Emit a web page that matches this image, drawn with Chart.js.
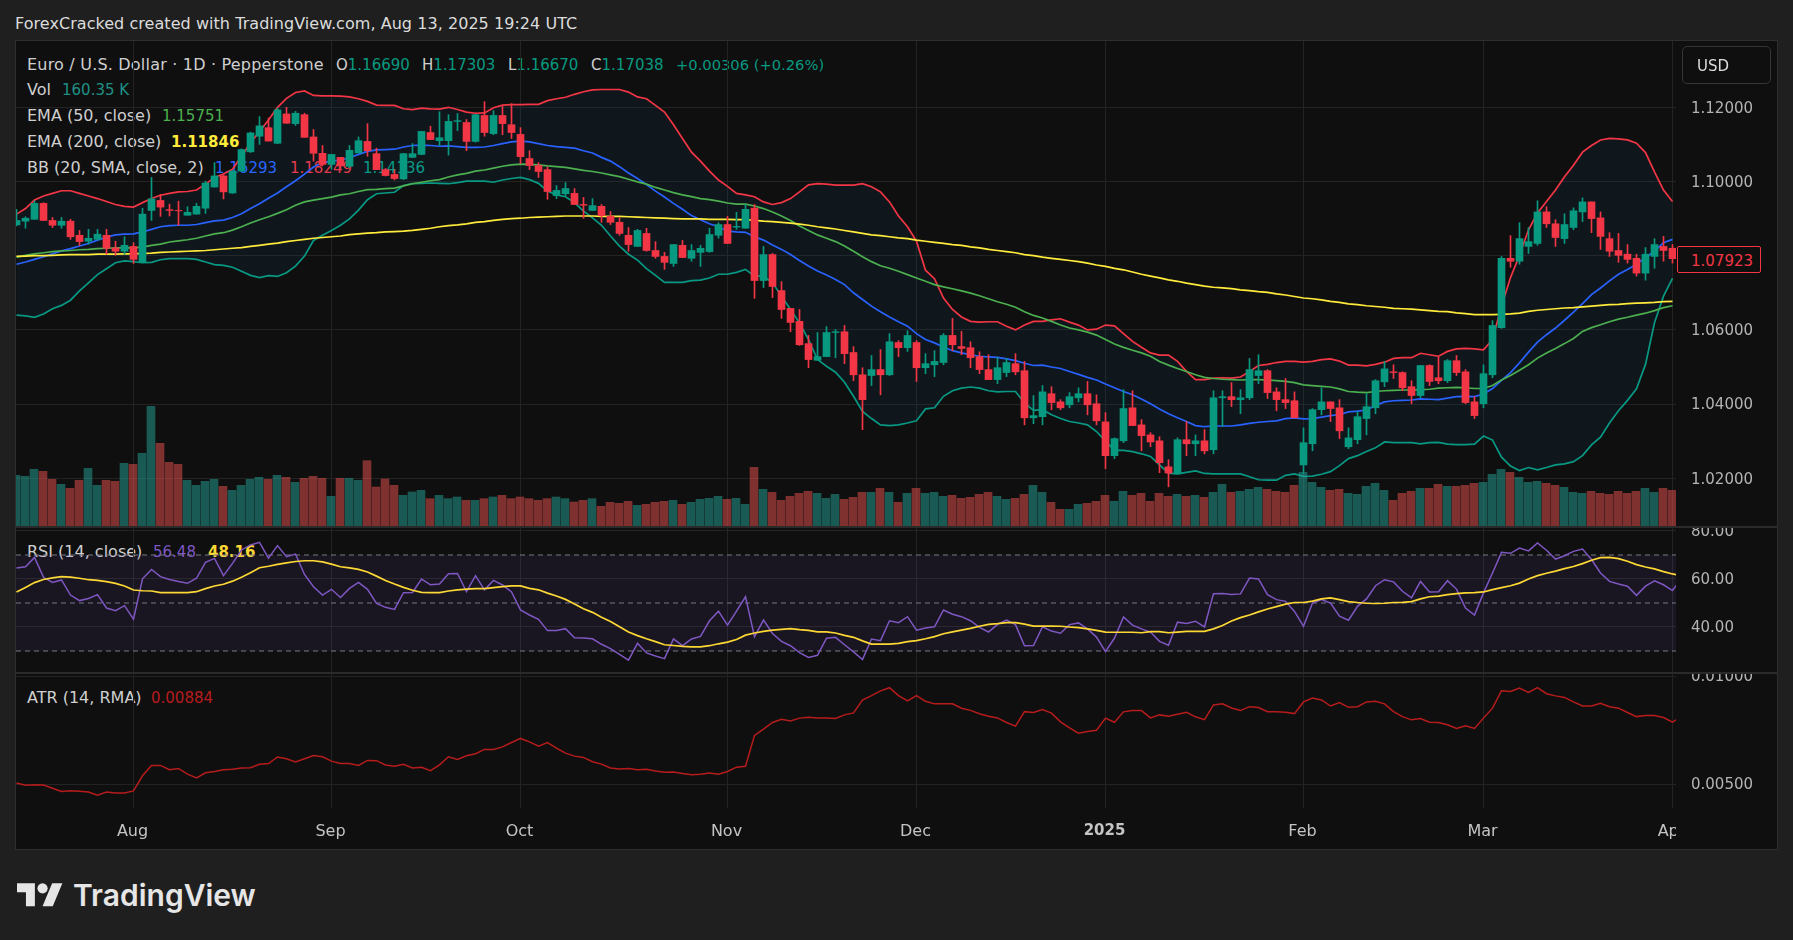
<!DOCTYPE html>
<html><head><meta charset="utf-8"><title>EUR/USD</title>
<script src="https://cdn.jsdelivr.net/npm/chart.js@4/dist/chart.umd.js"></script>
<style>
html,body{margin:0;padding:0;width:1793px;height:940px;background:#1f1f1f;overflow:hidden;font-family:"DejaVu Sans",sans-serif}
#frame{position:absolute;left:15px;top:40px;width:1763px;height:810px;box-sizing:border-box;border:1px solid #2e2e2e;background:#0f0f0f}
canvas{position:absolute;left:16px;z-index:2}
.t{position:absolute;white-space:pre;font-size:15px;line-height:20px;color:#cfcfcf;z-index:1}
.l{font-size:16px}
.top{z-index:3}
.sep{position:absolute;left:16px;width:1762px;height:2px;background:#2a2a2a;z-index:3}
</style></head><body>
<div id="frame"></div>
<div class="t top l" style="left:15px;top:14px;color:#dcdcdc;letter-spacing:0.05px">ForexCracked created with TradingView.com, Aug 13, 2025 19:24 UTC</div>

<div class="t l" style="left:27px;top:55px;letter-spacing:0.2px">Euro / U.S. Dollar · 1D · Pepperstone</div>
<div class="t" style="left:336px;top:55px">O<span style="color:#089981">1.16690</span></div>
<div class="t" style="left:422px;top:55px">H<span style="color:#089981">1.17303</span></div>
<div class="t" style="left:508px;top:55px">L<span style="color:#089981">1.16670</span></div>
<div class="t" style="left:591px;top:55px">C<span style="color:#089981">1.17038</span></div>
<div class="t" style="left:676px;top:55px;color:#089981;font-size:14.7px">+0.00306 (+0.26%)</div>
<div class="t l" style="left:27px;top:80px">Vol</div>
<div class="t" style="left:62px;top:80px;color:#1f8f85">160.35 K</div>
<div class="t l" style="left:27px;top:106px">EMA (50, close)</div>
<div class="t" style="left:162px;top:106px;color:#4caf50">1.15751</div>
<div class="t l" style="left:27px;top:132px">EMA (200, close)</div>
<div class="t" style="left:171px;top:132px;color:#ffeb3b;font-weight:600">1.11846</div>
<div class="t l" style="left:27px;top:158px">BB (20, SMA, close, 2)</div>
<div class="t" style="left:215px;top:158px;color:#2962ff">1.16293</div>
<div class="t" style="left:290px;top:158px;color:#f23645">1.18249</div>
<div class="t" style="left:363px;top:158px;color:#089981">1.14136</div>
<div class="t l" style="left:27px;top:542px">RSI (14, close)</div>
<div class="t" style="left:153px;top:542px;color:#7e57c2">56.48</div>
<div class="t" style="left:208px;top:542px;color:#fdd835;font-weight:600">48.16</div>
<div class="t l" style="left:27px;top:688px">ATR (14, RMA)</div>
<div class="t" style="left:151px;top:688px;color:#b71c1c">0.00884</div>

<canvas id="cMain" width="1762" height="486" style="top:41px;width:1762px;height:486px"></canvas>
<canvas id="cRsi" width="1762" height="145" style="top:528px;width:1762px;height:145px"></canvas>
<canvas id="cAtr" width="1762" height="176" style="top:674px;width:1762px;height:176px"></canvas>

<div class="sep" style="top:526px"></div>
<div class="sep" style="top:672px"></div>
<div style="position:absolute;left:1676px;top:809px;width:101px;height:40px;background:#0f0f0f;z-index:3"></div>
<div class="t top" style="left:1682px;top:46px;width:89px;height:38px;box-sizing:border-box;border:1px solid #363636;border-radius:5px;padding:9px 0 0 14px;color:#dcdcdc">USD</div>
<div class="t top" style="left:1677px;top:246px;width:84px;height:27px;box-sizing:border-box;border:1px solid #f23645;border-radius:2px;padding:4px 0 0 13px;color:#f23645;background:#0f0f0f">1.07923</div>
<svg style="position:absolute;left:17px;top:878px;z-index:3" width="46" height="36" viewBox="0 0 36 28"><path fill="#e6e6e6" d="M14 22H7V11H0V4h14v18zM28 22h-8l7.5-18h8L28 22z"/><circle fill="#e6e6e6" cx="20" cy="8" r="4"/></svg>
<div class="t top" style="left:73px;top:876px;font-family:Inter,sans-serif;font-weight:600;font-size:30px;line-height:38px;letter-spacing:0;color:#e6e6e6">TradingView</div>

<script>
const open=[1.0883,1.0893,1.0898,1.0941,1.0895,1.0882,1.0893,1.0855,1.0839,1.0844,1.0855,1.0821,1.0812,1.0825,1.0783,1.0922,1.0949,1.0924,1.0922,1.0909,1.0912,1.0928,1.0985,1.1015,1.0969,1.1028,1.1080,1.1122,1.1145,1.1103,1.1182,1.1156,1.1180,1.1120,1.1076,1.1046,1.1065,1.1041,1.1077,1.1108,1.1075,1.1032,1.1019,1.1007,1.1065,1.1073,1.1132,1.1110,1.1110,1.1162,1.1159,1.1108,1.1178,1.1129,1.1178,1.1153,1.1127,1.1062,1.1043,1.1032,1.0962,1.0967,1.0968,1.0938,1.0922,1.0933,1.0906,1.0890,1.0855,1.0825,1.0860,1.0814,1.0798,1.0779,1.0828,1.0793,1.0809,1.0811,1.0855,1.0884,1.0877,1.0874,1.0928,1.0733,1.0803,1.0706,1.0658,1.0623,1.0563,1.0518,1.0528,1.0593,1.0595,1.0539,1.0479,1.0477,1.0493,1.0479,1.0566,1.0552,1.0566,1.0498,1.0506,1.0512,1.0585,1.0555,1.0552,1.0528,1.0493,1.0466,1.0485,1.0509,1.0490,1.0363,1.0366,1.0428,1.0406,1.0398,1.0417,1.0428,1.0401,1.0352,1.0261,1.0301,1.0390,1.0344,1.0317,1.0301,1.0231,1.0212,1.0304,1.0293,1.0301,1.0277,1.0417,1.0420,1.0412,1.0417,1.0477,1.0490,1.0433,1.0412,1.0409,1.0236,1.0293,1.0385,1.0406,1.0390,1.0285,1.0304,1.0361,1.0390,1.0460,1.0487,1.0485,1.0447,1.0423,1.0504,1.0471,1.0463,1.0517,1.0487,1.0406,1.0401,1.0479,1.0606,1.0793,1.0785,1.0825,1.0833,1.0918,1.0886,1.0846,1.0876,1.0918,1.0945,1.0902,1.0846,1.0814,1.0804,1.0793,1.0753,1.0798,1.0825,1.0820];
const high=[1.0925,1.0905,1.0948,1.0943,1.0903,1.0903,1.0898,1.0868,1.0871,1.0871,1.0871,1.0839,1.0851,1.0835,1.0928,1.1011,1.0965,1.0939,1.0947,1.0932,1.0941,1.1001,1.1051,1.1018,1.1030,1.1088,1.1133,1.1175,1.1171,1.1198,1.1200,1.1189,1.1184,1.1140,1.1097,1.1073,1.1065,1.1097,1.1120,1.1156,1.1090,1.1035,1.1032,1.1076,1.1102,1.1135,1.1149,1.1188,1.1180,1.1183,1.1167,1.1181,1.1215,1.1191,1.1204,1.1210,1.1145,1.1083,1.1051,1.1039,1.0989,1.0997,1.0981,1.0957,1.0954,1.0938,1.0919,1.0903,1.0876,1.0871,1.0874,1.0838,1.0809,1.0830,1.0841,1.0830,1.0828,1.0874,1.0889,1.0906,1.0917,1.0938,1.0938,1.0825,1.0806,1.0730,1.0658,1.0655,1.0585,1.0593,1.0609,1.0601,1.0612,1.0555,1.0498,1.0531,1.0547,1.0590,1.0571,1.0598,1.0571,1.0536,1.0544,1.0590,1.0631,1.0596,1.0568,1.0541,1.0533,1.0525,1.0523,1.0536,1.0515,1.0423,1.0450,1.0447,1.0412,1.0431,1.0444,1.0461,1.0425,1.0377,1.0309,1.0439,1.0436,1.0358,1.0323,1.0312,1.0250,1.0309,1.0353,1.0317,1.0331,1.0436,1.0436,1.0458,1.0439,1.0523,1.0533,1.0493,1.0444,1.0469,1.0433,1.0336,1.0388,1.0444,1.0406,1.0412,1.0336,1.0380,1.0428,1.0466,1.0515,1.0506,1.0487,1.0463,1.0504,1.0506,1.0528,1.0520,1.0531,1.0493,1.0420,1.0506,1.0625,1.0798,1.0854,1.0889,1.0876,1.0948,1.0932,1.0897,1.0913,1.0929,1.0956,1.0945,1.0918,1.0862,1.0860,1.0830,1.0804,1.0822,1.0846,1.0852,1.0830];
const low=[1.0880,1.0874,1.0898,1.0895,1.0876,1.0874,1.0844,1.0828,1.0831,1.0842,1.0804,1.0801,1.0804,1.0779,1.0781,1.0895,1.0906,1.0907,1.0882,1.0909,1.0912,1.0914,1.0985,1.0953,1.0968,1.1027,1.1078,1.1100,1.1109,1.1102,1.1157,1.1151,1.1119,1.1055,1.1042,1.1033,1.1033,1.1037,1.1077,1.1068,1.1032,1.1015,1.1004,1.1005,1.1064,1.1072,1.1113,1.1097,1.1071,1.1137,1.1083,1.1106,1.1122,1.1126,1.1126,1.1116,1.1048,1.1032,1.1011,1.0952,1.0954,1.0962,1.0938,1.0901,1.0922,1.0890,1.0884,1.0855,1.0812,1.0825,1.0812,1.0793,1.0763,1.0771,1.0795,1.0785,1.0771,1.0809,1.0847,1.0833,1.0871,1.0874,1.0685,1.0714,1.0687,1.0631,1.0595,1.0558,1.0498,1.0518,1.0528,1.0525,1.0509,1.0463,1.0331,1.0450,1.0425,1.0477,1.0528,1.0542,1.0461,1.0482,1.0474,1.0506,1.0544,1.0533,1.0498,1.0482,1.0466,1.0455,1.0474,1.0479,1.0344,1.0347,1.0344,1.0385,1.0385,1.0390,1.0406,1.0371,1.0344,1.0226,1.0253,1.0296,1.0342,1.0274,1.0285,1.0215,1.0177,1.0212,1.0261,1.0261,1.0266,1.0266,1.0340,1.0393,1.0374,1.0412,1.0455,1.0415,1.0382,1.0388,1.0363,1.0212,1.0274,1.0371,1.0353,1.0307,1.0280,1.0293,1.0317,1.0374,1.0447,1.0469,1.0436,1.0401,1.0417,1.0450,1.0455,1.0458,1.0477,1.0401,1.0361,1.0390,1.0471,1.0604,1.0769,1.0777,1.0806,1.0828,1.0876,1.0825,1.0833,1.0870,1.0892,1.0862,1.0817,1.0798,1.0782,1.0780,1.0745,1.0734,1.0766,1.0785,1.0780];
const close=[1.0895,1.0901,1.0941,1.0895,1.0882,1.0893,1.0851,1.0838,1.0847,1.0858,1.0820,1.0812,1.0828,1.0790,1.0912,1.0953,1.0931,1.0922,1.0921,1.0917,1.0933,1.0996,1.1015,1.0972,1.1028,1.1086,1.1131,1.1150,1.1109,1.1193,1.1157,1.1184,1.1119,1.1076,1.1046,1.1073,1.1042,1.1084,1.1110,1.1083,1.1032,1.1016,1.1008,1.1075,1.1075,1.1135,1.1113,1.1118,1.1162,1.1164,1.1108,1.1180,1.1132,1.1178,1.1156,1.1132,1.1067,1.1043,1.1027,1.0973,1.0976,1.0981,1.0938,1.0936,1.0935,1.0908,1.0890,1.0860,1.0830,1.0868,1.0814,1.0798,1.0782,1.0830,1.0795,1.0814,1.0820,1.0857,1.0884,1.0833,1.0879,1.0925,1.0733,1.0803,1.0717,1.0655,1.0620,1.0560,1.0520,1.0528,1.0593,1.0595,1.0536,1.0479,1.0412,1.0493,1.0479,1.0568,1.0552,1.0585,1.0498,1.0509,1.0515,1.0585,1.0560,1.0550,1.0525,1.0493,1.0466,1.0498,1.0512,1.0487,1.0363,1.0369,1.0433,1.0404,1.0390,1.0420,1.0428,1.0398,1.0355,1.0261,1.0307,1.0388,1.0342,1.0315,1.0298,1.0242,1.0214,1.0304,1.0293,1.0301,1.0274,1.0417,1.0420,1.0412,1.0417,1.0493,1.0490,1.0431,1.0412,1.0404,1.0363,1.0296,1.0385,1.0406,1.0388,1.0328,1.0309,1.0366,1.0393,1.0463,1.0495,1.0485,1.0444,1.0423,1.0504,1.0461,1.0463,1.0517,1.0485,1.0404,1.0369,1.0482,1.0612,1.0793,1.0785,1.0846,1.0838,1.0918,1.0886,1.0849,1.0884,1.0921,1.0945,1.0900,1.0852,1.0812,1.0801,1.0790,1.0753,1.0804,1.0830,1.0814,1.0792];
const volumeK=[155,152,173,167,143,128,116,140,176,125,140,137,191,188,221,362,251,194,188,140,125,137,143,122,110,125,143,149,143,155,149,134,146,152,146,92,146,146,140,199,120,144,125,95,105,110,85,95,85,90,80,80,85,90,95,85,90,85,80,85,90,85,75,80,85,62,74,71,77,65,68,74,77,80,68,74,83,86,92,83,86,68,179,113,104,80,92,101,107,101,86,98,83,89,104,104,116,104,74,101,116,101,104,92,95,86,89,98,104,92,83,86,98,125,104,74,53,53,68,71,77,95,77,107,95,101,77,101,92,98,92,95,89,104,128,104,107,113,119,113,107,104,125,164,134,119,110,113,101,98,122,131,110,80,101,107,116,116,128,122,122,125,131,134,158,173,164,149,134,137,131,125,119,104,101,107,101,98,107,101,107,116,104,116,110];
const bbUpper=[1.0912,1.0927,1.0950,1.0961,1.0968,1.0975,1.0975,1.0968,1.0961,1.0954,1.0946,1.0938,1.0933,1.0931,1.0943,1.0954,1.0963,1.0968,1.0972,1.0973,1.0977,1.0993,1.1011,1.1020,1.1033,1.1068,1.1104,1.1135,1.1166,1.1200,1.1224,1.1240,1.1244,1.1232,1.1231,1.1231,1.1230,1.1228,1.1223,1.1216,1.1206,1.1205,1.1205,1.1196,1.1194,1.1198,1.1196,1.1195,1.1200,1.1194,1.1187,1.1184,1.1185,1.1199,1.1206,1.1207,1.1207,1.1208,1.1208,1.1218,1.1223,1.1227,1.1235,1.1242,1.1247,1.1248,1.1248,1.1248,1.1241,1.1228,1.1223,1.1205,1.1187,1.1153,1.1116,1.1079,1.1055,1.1028,1.1004,1.0987,1.0968,1.0964,1.0959,1.0945,1.0938,1.0943,1.0954,1.0972,1.0991,1.0994,1.0993,1.0990,1.0990,1.0990,1.0994,1.0986,1.0972,1.0945,1.0907,1.0878,1.0839,1.0761,1.0738,1.0686,1.0655,1.0635,1.0623,1.0621,1.0622,1.0622,1.0610,1.0600,1.0613,1.0623,1.0623,1.0627,1.0630,1.0621,1.0613,1.0600,1.0602,1.0613,1.0611,1.0590,1.0569,1.0553,1.0538,1.0532,1.0532,1.0515,1.0488,1.0466,1.0466,1.0470,1.0471,1.0470,1.0473,1.0488,1.0504,1.0507,1.0512,1.0515,1.0515,1.0513,1.0515,1.0520,1.0522,1.0516,1.0505,1.0505,1.0503,1.0507,1.0513,1.0523,1.0525,1.0525,1.0537,1.0533,1.0529,1.0542,1.0549,1.0550,1.0549,1.0546,1.0574,1.0664,1.0741,1.0801,1.0870,1.0915,1.0946,1.0977,1.1013,1.1044,1.1079,1.1097,1.1112,1.1116,1.1115,1.1112,1.1103,1.1078,1.1026,1.0977,1.0946];
const bbBasis=[1.0777,1.0783,1.0790,1.0797,1.0805,1.0813,1.0819,1.0826,1.0833,1.0842,1.0850,1.0856,1.0858,1.0859,1.0864,1.0871,1.0878,1.0881,1.0882,1.0882,1.0884,1.0889,1.0894,1.0896,1.0903,1.0913,1.0927,1.0940,1.0955,1.0969,1.0986,1.1002,1.1020,1.1039,1.1051,1.1055,1.1058,1.1064,1.1073,1.1081,1.1085,1.1086,1.1087,1.1093,1.1097,1.1098,1.1097,1.1095,1.1096,1.1094,1.1092,1.1092,1.1093,1.1097,1.1102,1.1107,1.1109,1.1107,1.1102,1.1097,1.1094,1.1092,1.1090,1.1083,1.1077,1.1065,1.1055,1.1040,1.1023,1.1008,1.0992,1.0974,1.0958,1.0941,1.0925,1.0908,1.0897,1.0886,1.0878,1.0866,1.0864,1.0863,1.0851,1.0842,1.0829,1.0817,1.0803,1.0787,1.0772,1.0759,1.0748,1.0736,1.0722,1.0700,1.0682,1.0664,1.0649,1.0635,1.0622,1.0610,1.0590,1.0574,1.0565,1.0554,1.0544,1.0538,1.0533,1.0529,1.0527,1.0526,1.0522,1.0517,1.0510,1.0504,1.0505,1.0500,1.0496,1.0488,1.0480,1.0472,1.0465,1.0454,1.0444,1.0434,1.0425,1.0414,1.0401,1.0387,1.0374,1.0363,1.0353,1.0342,1.0339,1.0341,1.0341,1.0341,1.0344,1.0348,1.0351,1.0353,1.0355,1.0361,1.0363,1.0360,1.0361,1.0365,1.0369,1.0372,1.0379,1.0381,1.0384,1.0396,1.0406,1.0409,1.0410,1.0411,1.0414,1.0413,1.0412,1.0416,1.0420,1.0421,1.0420,1.0427,1.0442,1.0464,1.0485,1.0511,1.0540,1.0567,1.0587,1.0605,1.0626,1.0648,1.0671,1.0695,1.0713,1.0732,1.0750,1.0763,1.0777,1.0795,1.0812,1.0835,1.0844];
const bbLower=[1.0640,1.0638,1.0634,1.0643,1.0657,1.0666,1.0680,1.0705,1.0727,1.0749,1.0765,1.0781,1.0786,1.0784,1.0781,1.0782,1.0789,1.0792,1.0792,1.0792,1.0790,1.0783,1.0776,1.0774,1.0769,1.0758,1.0747,1.0741,1.0746,1.0744,1.0754,1.0772,1.0799,1.0841,1.0855,1.0868,1.0882,1.0899,1.0923,1.0951,1.0967,1.0969,1.0971,1.0989,1.0994,1.0995,1.0996,1.0995,1.0994,1.0997,1.1001,1.1001,1.1001,1.0998,1.1004,1.1008,1.1011,1.1005,1.0995,1.0974,1.0964,1.0959,1.0943,1.0920,1.0902,1.0882,1.0853,1.0826,1.0804,1.0788,1.0765,1.0747,1.0728,1.0728,1.0728,1.0733,1.0734,1.0740,1.0750,1.0750,1.0755,1.0763,1.0745,1.0745,1.0727,1.0691,1.0655,1.0619,1.0574,1.0520,1.0502,1.0486,1.0459,1.0421,1.0380,1.0361,1.0344,1.0342,1.0344,1.0349,1.0355,1.0387,1.0390,1.0421,1.0436,1.0443,1.0446,1.0443,1.0436,1.0433,1.0434,1.0434,1.0403,1.0383,1.0385,1.0371,1.0361,1.0353,1.0349,1.0344,1.0326,1.0300,1.0275,1.0275,1.0272,1.0266,1.0259,1.0236,1.0214,1.0212,1.0216,1.0220,1.0213,1.0212,1.0212,1.0212,1.0212,1.0204,1.0196,1.0195,1.0195,1.0208,1.0212,1.0205,1.0206,1.0211,1.0218,1.0234,1.0253,1.0261,1.0272,1.0282,1.0298,1.0296,1.0296,1.0296,1.0293,1.0296,1.0297,1.0292,1.0291,1.0291,1.0292,1.0314,1.0303,1.0257,1.0233,1.0221,1.0229,1.0223,1.0229,1.0236,1.0239,1.0245,1.0261,1.0290,1.0311,1.0349,1.0382,1.0410,1.0441,1.0507,1.0619,1.0691,1.0739];
const ema50=[1.0796,1.0801,1.0805,1.0808,1.0811,1.0813,1.0814,1.0816,1.0817,1.0819,1.0820,1.0821,1.0821,1.0821,1.0823,1.0828,1.0831,1.0837,1.0840,1.0843,1.0847,1.0853,1.0859,1.0862,1.0869,1.0878,1.0888,1.0897,1.0905,1.0914,1.0924,1.0936,1.0945,1.0950,1.0954,1.0958,1.0964,1.0967,1.0973,1.0978,1.0979,1.0981,1.0982,1.0988,1.0994,1.0998,1.1002,1.1005,1.1012,1.1018,1.1022,1.1028,1.1031,1.1036,1.1041,1.1045,1.1047,1.1046,1.1045,1.1042,1.1040,1.1038,1.1034,1.1030,1.1027,1.1023,1.1018,1.1013,1.1006,1.0999,1.0993,1.0984,1.0977,1.0970,1.0964,1.0959,1.0954,1.0951,1.0947,1.0942,1.0939,1.0939,1.0934,1.0927,1.0918,1.0907,1.0895,1.0880,1.0868,1.0856,1.0847,1.0838,1.0826,1.0812,1.0797,1.0784,1.0773,1.0766,1.0758,1.0749,1.0740,1.0731,1.0722,1.0716,1.0711,1.0705,1.0699,1.0692,1.0684,1.0676,1.0669,1.0661,1.0649,1.0639,1.0632,1.0623,1.0613,1.0605,1.0600,1.0594,1.0586,1.0574,1.0562,1.0553,1.0545,1.0538,1.0529,1.0515,1.0505,1.0496,1.0488,1.0479,1.0472,1.0469,1.0467,1.0466,1.0465,1.0466,1.0466,1.0465,1.0463,1.0461,1.0458,1.0452,1.0450,1.0448,1.0446,1.0441,1.0434,1.0432,1.0431,1.0434,1.0436,1.0437,1.0438,1.0438,1.0439,1.0440,1.0443,1.0444,1.0445,1.0444,1.0442,1.0442,1.0450,1.0465,1.0477,1.0491,1.0506,1.0524,1.0538,1.0550,1.0563,1.0577,1.0596,1.0606,1.0614,1.0622,1.0629,1.0634,1.0640,1.0645,1.0652,1.0660,1.0665];
const ema200=[1.0798,1.0799,1.0800,1.0800,1.0801,1.0802,1.0803,1.0803,1.0803,1.0804,1.0804,1.0804,1.0805,1.0805,1.0806,1.0807,1.0809,1.0810,1.0811,1.0812,1.0813,1.0814,1.0816,1.0818,1.0820,1.0822,1.0825,1.0828,1.0831,1.0834,1.0838,1.0841,1.0844,1.0847,1.0849,1.0851,1.0853,1.0857,1.0859,1.0861,1.0862,1.0864,1.0865,1.0866,1.0868,1.0871,1.0874,1.0878,1.0881,1.0883,1.0886,1.0890,1.0892,1.0895,1.0898,1.0900,1.0901,1.0903,1.0904,1.0905,1.0906,1.0907,1.0907,1.0907,1.0907,1.0906,1.0906,1.0906,1.0905,1.0904,1.0903,1.0902,1.0901,1.0900,1.0899,1.0899,1.0899,1.0898,1.0898,1.0898,1.0897,1.0897,1.0895,1.0893,1.0892,1.0890,1.0888,1.0885,1.0882,1.0878,1.0875,1.0872,1.0868,1.0864,1.0860,1.0856,1.0854,1.0851,1.0848,1.0846,1.0842,1.0839,1.0836,1.0833,1.0830,1.0828,1.0824,1.0821,1.0817,1.0814,1.0811,1.0808,1.0803,1.0800,1.0796,1.0793,1.0790,1.0787,1.0784,1.0780,1.0775,1.0771,1.0766,1.0762,1.0756,1.0750,1.0745,1.0740,1.0735,1.0731,1.0726,1.0722,1.0718,1.0715,1.0713,1.0711,1.0708,1.0706,1.0703,1.0701,1.0697,1.0694,1.0690,1.0686,1.0684,1.0681,1.0677,1.0674,1.0670,1.0668,1.0665,1.0663,1.0661,1.0658,1.0657,1.0656,1.0654,1.0652,1.0650,1.0649,1.0646,1.0644,1.0641,1.0641,1.0641,1.0642,1.0643,1.0645,1.0650,1.0653,1.0655,1.0657,1.0659,1.0660,1.0662,1.0664,1.0666,1.0668,1.0669,1.0671,1.0672,1.0673,1.0674,1.0676,1.0677];
const rsi=[64.6,65.1,69.0,60.7,58.6,59.6,53.3,51.0,51.9,53.5,47.9,46.8,48.9,43.3,60.1,64.0,61.0,59.8,59.0,58.2,60.3,66.9,68.6,61.4,66.5,72.1,74.2,75.3,68.7,73.9,69.3,70.4,61.9,56.8,53.3,55.7,52.3,56.1,58.6,55.7,49.8,48.2,47.3,54.3,54.4,60.0,57.6,57.9,62.2,62.3,54.7,61.4,55.5,59.4,57.5,54.6,47.1,45.0,43.2,38.5,38.5,39.3,35.5,35.4,35.1,32.8,31.0,28.6,26.2,33.2,29.2,27.9,26.8,35.0,32.2,35.0,36.1,42.6,46.6,40.8,46.6,52.6,36.0,42.9,37.3,34.0,32.2,29.3,27.3,28.2,35.3,35.7,32.6,29.6,26.4,35.0,34.3,42.6,41.8,44.3,38.7,39.6,40.1,47.1,45.3,44.3,42.6,39.8,37.9,41.1,42.9,41.0,32.2,32.3,40.1,38.3,37.4,41.0,41.7,39.2,35.8,29.7,35.4,44.2,40.8,39.2,37.9,34.0,32.4,42.0,41.5,42.4,40.0,53.9,54.0,53.5,53.8,60.4,60.0,53.5,51.4,50.7,46.5,40.3,50.0,51.4,50.0,44.5,42.8,48.6,51.7,57.2,59.7,58.8,54.9,52.1,59.0,54.6,54.7,59.3,55.8,47.9,45.0,54.2,62.5,71.1,70.7,72.9,71.7,75.0,72.0,68.3,69.7,71.5,72.5,68.1,62.5,59.0,57.9,57.0,53.2,57.0,59.2,57.6,55.2,60.4];
const rsiMa=[54.6,56.5,58.5,59.8,60.5,61.0,60.8,60.3,59.7,59.4,58.9,58.2,57.1,55.4,55.1,55.0,54.3,54.3,54.3,54.3,54.7,56.0,57.1,57.8,59.1,60.7,62.6,64.7,65.3,66.1,66.7,67.3,67.6,67.6,67.1,66.2,65.1,64.6,64.0,62.9,61.2,59.4,57.9,56.5,55.3,54.4,54.3,54.3,55.0,55.5,55.8,56.0,56.0,56.4,56.8,57.1,57.1,56.1,55.5,54.1,52.9,51.5,49.6,47.6,46.1,44.1,42.3,40.1,37.9,36.4,35.1,33.9,32.6,32.3,31.9,31.7,31.7,32.2,33.0,33.7,34.8,36.6,37.5,38.2,38.7,39.0,39.3,38.9,38.6,38.0,38.0,37.5,36.5,35.7,34.2,32.9,32.9,32.9,33.2,33.9,34.3,35.1,36.0,37.2,38.0,38.7,39.4,40.3,41.1,41.4,41.8,41.8,41.2,40.4,40.4,40.4,40.3,40.0,39.7,39.2,38.6,37.9,37.8,37.8,37.8,37.6,38.1,38.1,37.6,37.9,38.2,38.2,38.2,39.2,40.6,42.5,43.9,45.0,46.3,47.5,48.5,49.5,50.2,50.2,50.8,51.7,52.1,51.4,50.6,50.2,49.9,49.8,49.9,50.2,50.3,50.6,51.7,52.6,52.9,53.5,53.9,54.2,54.3,54.6,55.6,56.4,57.2,58.3,60.0,61.4,62.4,63.3,64.3,65.2,66.4,67.8,68.9,69.0,68.5,67.4,66.0,65.0,64.2,63.1,62.1,61.5];
const atr=[0.00505,0.00494,0.00497,0.00495,0.00480,0.00465,0.00469,0.00466,0.00463,0.00448,0.00463,0.00458,0.00458,0.00468,0.00538,0.00586,0.00586,0.00566,0.00572,0.00546,0.00528,0.00552,0.00558,0.00566,0.00568,0.00574,0.00575,0.00591,0.00595,0.00625,0.00617,0.00602,0.00617,0.00632,0.00626,0.00606,0.00595,0.00595,0.00586,0.00609,0.00608,0.00588,0.00582,0.00591,0.00574,0.00577,0.00562,0.00589,0.00626,0.00614,0.00631,0.00640,0.00660,0.00660,0.00672,0.00692,0.00711,0.00695,0.00675,0.00692,0.00666,0.00643,0.00629,0.00623,0.00603,0.00592,0.00574,0.00569,0.00572,0.00566,0.00568,0.00560,0.00554,0.00555,0.00549,0.00543,0.00545,0.00551,0.00545,0.00558,0.00578,0.00582,0.00725,0.00754,0.00785,0.00800,0.00792,0.00805,0.00809,0.00806,0.00806,0.00803,0.00820,0.00829,0.00889,0.00909,0.00931,0.00946,0.00909,0.00885,0.00909,0.00883,0.00871,0.00871,0.00871,0.00851,0.00841,0.00825,0.00814,0.00806,0.00785,0.00768,0.00835,0.00831,0.00845,0.00828,0.00788,0.00760,0.00735,0.00743,0.00749,0.00805,0.00786,0.00834,0.00840,0.00840,0.00806,0.00820,0.00814,0.00823,0.00832,0.00811,0.00798,0.00866,0.00871,0.00852,0.00840,0.00858,0.00854,0.00835,0.00835,0.00832,0.00826,0.00880,0.00898,0.00889,0.00861,0.00877,0.00855,0.00858,0.00880,0.00883,0.00871,0.00835,0.00812,0.00797,0.00803,0.00786,0.00785,0.00774,0.00757,0.00769,0.00757,0.00805,0.00851,0.00932,0.00928,0.00944,0.00924,0.00946,0.00918,0.00908,0.00901,0.00880,0.00861,0.00861,0.00874,0.00858,0.00851,0.00831,0.00812,0.00817,0.00817,0.00808,0.00786,0.00815];
const monthLabels=["Aug","Sep","Oct","Nov","Dec","2025","Feb","Mar","Apr"];
const monthBars=[13,35,56,79,100,121,143,163,184];
const priceTicks=[1.02,1.04,1.06,1.08,1.10,1.12];
const rsiTicks=[40,60,80];
const atrTicks=[0.005,0.01];
const rsiLevels=[70,50,30];

const GREEN='#089981',RED='#f23645',GRID='#232323',AXIS='#b4b4b4',FONT='"DejaVu Sans"';
const XMIN=-0.0556,XMAX=XMIN+1660/9;
const up=i=>close[i]>=open[i];
const xy=a=>a.map((v,i)=>({x:i,y:v}));
const noPad=s=>{s.paddingTop=0;s.paddingBottom=0;s.paddingLeft=0;s.paddingRight=0;};
const yAxis=(min,max,vals,fmt)=>({type:'linear',position:'right',min,max,offset:false,
  border:{display:false},grid:{color:GRID,lineWidth:1,drawTicks:false,offset:false},
  afterBuildTicks:s=>{s.ticks=vals.map(v=>({value:v}));},
  afterFit:s=>{s.width=102;noPad(s);},
  ticks:{callback:fmt,color:AXIS,font:{family:FONT,size:15},padding:15,labelOffset:1.5,crossAlign:'near',autoSkip:false,maxRotation:0}});
const xAxis=(show,min=XMIN,max=XMAX)=>({type:'linear',position:'bottom',min,max,offset:false,
  border:{display:false},grid:{color:GRID,lineWidth:1,drawTicks:false,offset:false},
  afterBuildTicks:s=>{s.ticks=monthBars.map(v=>({value:v}));},
  afterFit:s=>{s.height=show?42:0;noPad(s);},
  ticks:{display:show,autoSkip:false,maxRotation:0,padding:14,labelOffset:-1,color:'#c4c4c4',
    callback:v=>monthLabels[monthBars.indexOf(v)]||'',
    font:c=>({family:FONT,size:c.tick&&c.tick.value===121?15:16,weight:c.tick&&c.tick.value===121?'600':'400'})}});
const line=(data,color,w,order,extra={})=>Object.assign({type:'line',data:xy(data),borderColor:color,borderWidth:w,pointRadius:0,tension:0,order,fill:false,yAxisID:'y',xAxisID:'x'},extra);
const base=()=>({responsive:false,animation:false,devicePixelRatio:1,events:[],
  layout:{padding:0},plugins:{legend:{display:false},tooltip:{enabled:false},title:{display:false}},parsing:{xAxisKey:'x',yAxisKey:'y'}});

new Chart('cMain',{type:'bar',data:{datasets:[
  {type:'bar',data:close.map((c,i)=>({x:i,y:[Math.min(open[i],c),Math.max(open[i],c)]})),backgroundColor:close.map((c,i)=>up(i)?GREEN:RED),barThickness:7,grouped:false,order:1,yAxisID:'y',xAxisID:'x',borderWidth:0},
  {type:'bar',data:close.map((c,i)=>({x:i,y:[low[i],high[i]]})),backgroundColor:close.map((c,i)=>up(i)?GREEN:RED),barThickness:1,grouped:false,order:2,yAxisID:'y',xAxisID:'x',borderWidth:0},
  line(ema200,'#ffeb3b',1.7,3),
  line(ema50,'#4caf50',1.7,4),
  line(bbBasis,'#2962ff',1.7,5),
  line(bbUpper,RED,1.7,6,{fill:{target:6},backgroundColor:'rgba(33,150,243,0.06)'}),
  line(bbLower,GREEN,1.7,7),
  {type:'bar',data:volumeK.map((v,i)=>({x:i,y:v})),backgroundColor:close.map((c,i)=>up(i)?'rgba(38,166,154,0.5)':'rgba(239,83,80,0.5)'),barThickness:8,grouped:false,order:2.5,yAxisID:'v',xAxisID:'xv',borderWidth:0}
]},options:Object.assign(base(),{scales:{
  x:xAxis(false),
  xv:Object.assign(xAxis(false,XMIN+0.5/9,XMAX+0.5/9),{display:false}),
  y:yAxis(1.00687,1.13787,priceTicks,v=>v.toFixed(5)),
  v:{type:'linear',display:false,min:0,max:1458,offset:false}
}})});

const span=[XMIN,XMAX];
const lvl=(v,extra={})=>Object.assign({type:'line',data:span.map(x=>({x,y:v})),borderColor:'#787b86',borderWidth:1,borderDash:[5,4],pointRadius:0,order:9,fill:false,yAxisID:'y',xAxisID:'x'},extra);
new Chart('cRsi',{type:'line',data:{datasets:[
  line(rsiMa,'#fdd835',1.7,1),
  line(rsi,'#7e57c2',1.5,2),
  lvl(rsiLevels[0],{fill:{target:3},backgroundColor:'rgba(126,87,194,0.1)'}),
  lvl(rsiLevels[2]),
  lvl(rsiLevels[1])
]},options:Object.assign(base(),{scales:{x:xAxis(false),y:yAxis(20.83,81.25,rsiTicks,v=>v.toFixed(2))}})});

new Chart('cAtr',{type:'line',data:{datasets:[line(atr,'#b71c1c',1.5,1)]},
options:Object.assign(base(),{scales:{x:xAxis(true),y:yAxis(0.003889,0.010093,atrTicks,v=>v.toFixed(5))}})});
</script>
</body></html>
